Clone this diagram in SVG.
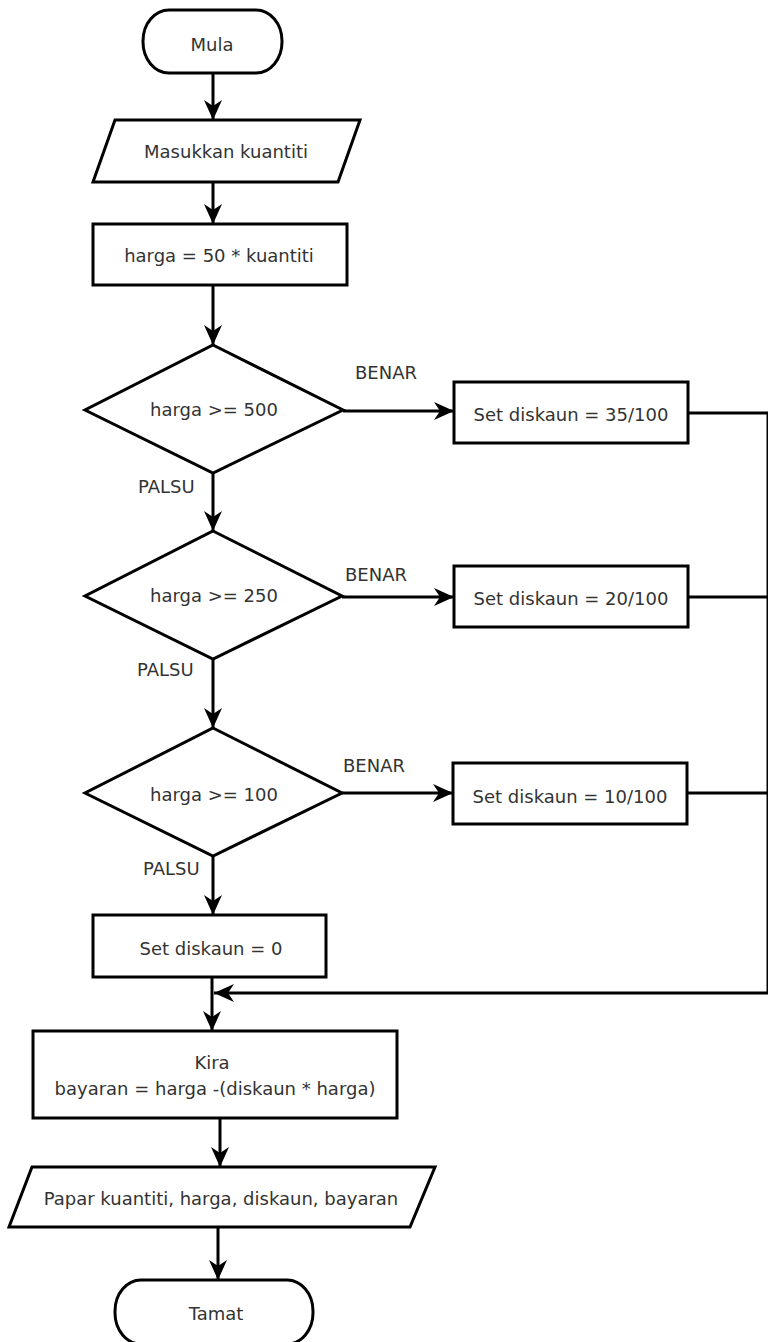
<svg xmlns="http://www.w3.org/2000/svg" width="768" height="1342" viewBox="0 0 768 1342">
<style>
.s{fill:#fff;stroke:#000;stroke-width:3;stroke-linejoin:miter}
.t{font-family:"DejaVu Sans",Verdana,sans-serif;font-size:18px;fill:#333;text-anchor:middle}
.l{font-family:"DejaVu Sans",Verdana,sans-serif;font-size:18px;fill:#333}
.c{fill:none;stroke:#000;stroke-width:3}
</style>
<defs>
<marker id="ah" markerUnits="userSpaceOnUse" markerWidth="22" markerHeight="22" viewBox="0 0 22 22" refX="20" refY="11" orient="auto">
<path d="M0,2 L20,11 L0,20 L6,11 z" fill="#000"/>
</marker>
</defs>
<rect width="768" height="1342" fill="#fff"/>
<g id="connectors">
<line class="c" x1="213" y1="73" x2="213" y2="120" marker-end="url(#ah)"/>
<line class="c" x1="213" y1="182" x2="213" y2="224" marker-end="url(#ah)"/>
<line class="c" x1="213" y1="285" x2="213" y2="345" marker-end="url(#ah)"/>
<line class="c" x1="343" y1="411" x2="454" y2="411" marker-end="url(#ah)"/>
<line class="c" x1="213" y1="473" x2="213" y2="531" marker-end="url(#ah)"/>
<line class="c" x1="342" y1="597" x2="454" y2="597" marker-end="url(#ah)"/>
<line class="c" x1="213" y1="659" x2="213" y2="728" marker-end="url(#ah)"/>
<line class="c" x1="342" y1="793" x2="453" y2="793" marker-end="url(#ah)"/>
<line class="c" x1="213" y1="856" x2="213" y2="915" marker-end="url(#ah)"/>
<line class="c" x1="212" y1="977" x2="212" y2="1031" marker-end="url(#ah)"/>
<polyline class="c" points="688,413 768,413 768,993"/>
<line class="c" x1="688" y1="597" x2="768" y2="597"/>
<line class="c" x1="687" y1="793" x2="768" y2="793"/>
<line class="c" x1="768" y1="993" x2="214" y2="993" marker-end="url(#ah)"/>
<line class="c" x1="220" y1="1118" x2="220" y2="1167" marker-end="url(#ah)"/>
<line class="c" x1="218" y1="1227" x2="218" y2="1280" marker-end="url(#ah)"/>
</g>
<g id="mula">
<rect class="s" x="143" y="10" width="139" height="63" rx="26" ry="31"/>
<text class="t" x="212" y="51">Mula</text>
</g>
<g id="input">
<polygon class="s" points="115,120 360,120 338,182 93,182"/>
<text class="t" x="226" y="158">Masukkan kuantiti</text>
</g>
<g id="harga">
<rect class="s" x="93" y="224" width="254" height="61"/>
<text class="t" x="219" y="262">harga = 50 * kuantiti</text>
</g>
<g id="d500">
<polygon class="s" points="213,345 343,410 213,473 85,410"/>
<text class="t" x="214" y="416">harga &gt;= 500</text>
<text class="l" x="355" y="379">BENAR</text>
<text class="l" x="138" y="493">PALSU</text>
</g>
<g id="s35">
<rect class="s" x="454" y="382" width="234" height="61"/>
<text class="t" x="571" y="421">Set diskaun = 35/100</text>
</g>
<g id="d250">
<polygon class="s" points="213,531 342,596 213,659 85,596"/>
<text class="t" x="214" y="602">harga &gt;= 250</text>
<text class="l" x="345" y="581">BENAR</text>
<text class="l" x="137" y="676">PALSU</text>
</g>
<g id="s20">
<rect class="s" x="454" y="566" width="234" height="61"/>
<text class="t" x="571" y="605">Set diskaun = 20/100</text>
</g>
<g id="d100">
<polygon class="s" points="213,728 342,793 213,856 85,793"/>
<text class="t" x="214" y="801">harga &gt;= 100</text>
<text class="l" x="343" y="772">BENAR</text>
<text class="l" x="143" y="875">PALSU</text>
</g>
<g id="s10">
<rect class="s" x="453" y="763" width="234" height="61"/>
<text class="t" x="570" y="803">Set diskaun = 10/100</text>
</g>
<g id="s0">
<rect class="s" x="93" y="915" width="233" height="62"/>
<text class="t" x="211" y="955">Set diskaun = 0</text>
</g>
<g id="kira">
<rect class="s" x="33" y="1031" width="364" height="87"/>
<text class="t" x="212" y="1069">Kira</text>
<text class="t" x="215" y="1095">bayaran = harga -(diskaun * harga)</text>
</g>
<g id="papar">
<polygon class="s" points="32,1167 435,1167 410,1227 9,1227"/>
<text class="t" x="221" y="1205">Papar kuantiti, harga, diskaun, bayaran</text>
</g>
<g id="tamat">
<rect class="s" x="115" y="1280" width="198" height="64" rx="26" ry="31"/>
<text class="t" x="216" y="1320">Tamat</text>
</g>
</svg>
